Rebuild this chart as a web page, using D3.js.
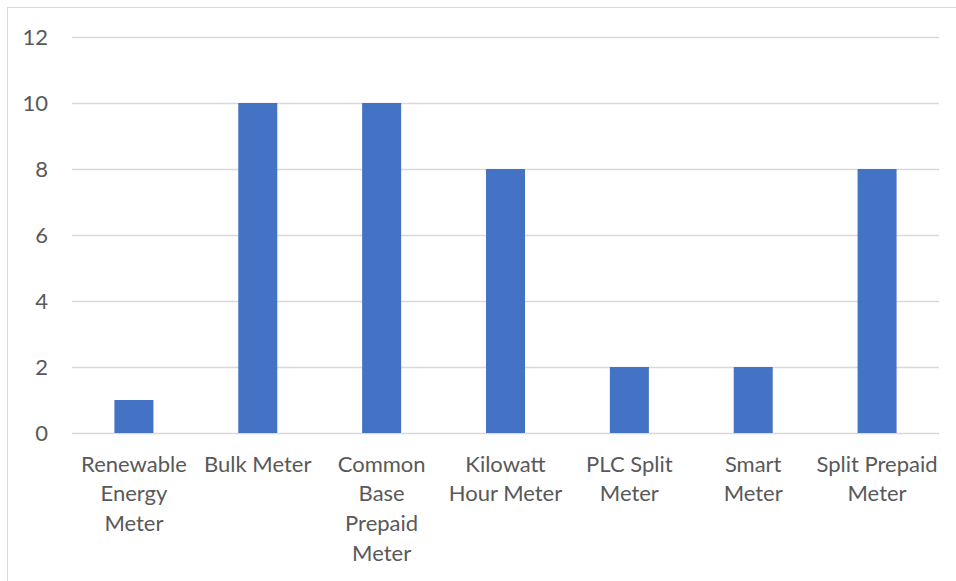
<!DOCTYPE html>
<html>
<head>
<meta charset="utf-8">
<script src="https://cdn.jsdelivr.net/npm/d3@7"></script>
<style>
  html, body { margin: 0; padding: 0; background: #fff; }
  svg { display: block; }
</style>
</head>
<body>
<div id="chart"></div>
<script>
// data
const categories = [
  'Renewable Energy Meter', 'Bulk Meter', 'Common Base Prepaid Meter',
  'Kilowatt Hour Meter', 'PLC Split Meter', 'Smart Meter', 'Split Prepaid Meter'
];
const categoryLines = [
  ['Renewable', 'Energy', 'Meter'],
  ['Bulk Meter'],
  ['Common', 'Base', 'Prepaid', 'Meter'],
  ['Kilowatt', 'Hour Meter'],
  ['PLC Split', 'Meter'],
  ['Smart', 'Meter'],
  ['Split Prepaid', 'Meter']
];
const values = [1, 10, 10, 8, 2, 2, 8];
const yTicks = [0, 2, 4, 6, 8, 10, 12];

function drawChart() {
  const width = 956, height = 581;
  const font = 'Lato, "Open Sans", sans-serif';
  const fontSize = 22;

  const svg = d3.select('#chart')
    .append('svg')
    .attr('width', width)
    .attr('height', height);

  // chart frame (runs off the bottom/right like the screenshot)
  svg.append('rect')
    .attr('x', 7.5).attr('y', 7.5)
    .attr('width', width + 10).attr('height', height + 10)
    .attr('fill', '#fff')
    .attr('stroke', '#d9d9d9');

  const x = d3.scaleBand()
    .domain(categories)
    .range([72, 939])
    .paddingInner(0.685)
    .paddingOuter(0.3425);

  const y = d3.scaleLinear().domain([0, 12]).range([433, 37]);

  // gridlines
  svg.append('g')
    .selectAll('line')
    .data(yTicks)
    .enter()
    .append('line')
    .attr('x1', 72).attr('x2', 939)
    .attr('y1', d => y(d) + 0.5).attr('y2', d => y(d) + 0.5)
    .attr('stroke', '#d9d9d9')
    .attr('stroke-width', 1.3);

  // bars
  svg.append('g')
    .selectAll('rect')
    .data(values)
    .enter()
    .append('rect')
    .attr('x', (d, i) => x(categories[i]))
    .attr('y', d => y(d))
    .attr('width', x.bandwidth())
    .attr('height', d => y(0) - y(d))
    .attr('fill', '#4472c4');

  // y axis labels
  const yAxis = d3.axisLeft(y).tickValues(yTicks).tickSize(0).tickPadding(0);
  const gy = svg.append('g')
    .attr('transform', 'translate(48,0)')
    .call(yAxis);
  gy.select('.domain').remove();
  gy.selectAll('text')
    .attr('font-family', font)
    .attr('font-size', fontSize)
    .attr('fill', '#595959');

  // category labels, wrapped like the original
  const labels = svg.append('g')
    .selectAll('text')
    .data(categoryLines)
    .enter()
    .append('text')
    .attr('x', (d, i) => x(categories[i]) + x.bandwidth() / 2)
    .attr('y', 464)
    .attr('text-anchor', 'middle')
    .attr('font-family', font)
    .attr('font-size', fontSize)
    .attr('fill', '#595959');

  labels.selectAll('tspan')
    .data((d, i) => d.map(t => ({ t, i })))
    .enter()
    .append('tspan')
    .attr('x', d => x(categories[d.i]) + x.bandwidth() / 2)
    .attr('dy', (d, j) => j === 0 ? '0.35em' : 29.7)
    .text(d => d.t);
}

window.addEventListener('DOMContentLoaded', drawChart);
</script>
</body>
</html>
